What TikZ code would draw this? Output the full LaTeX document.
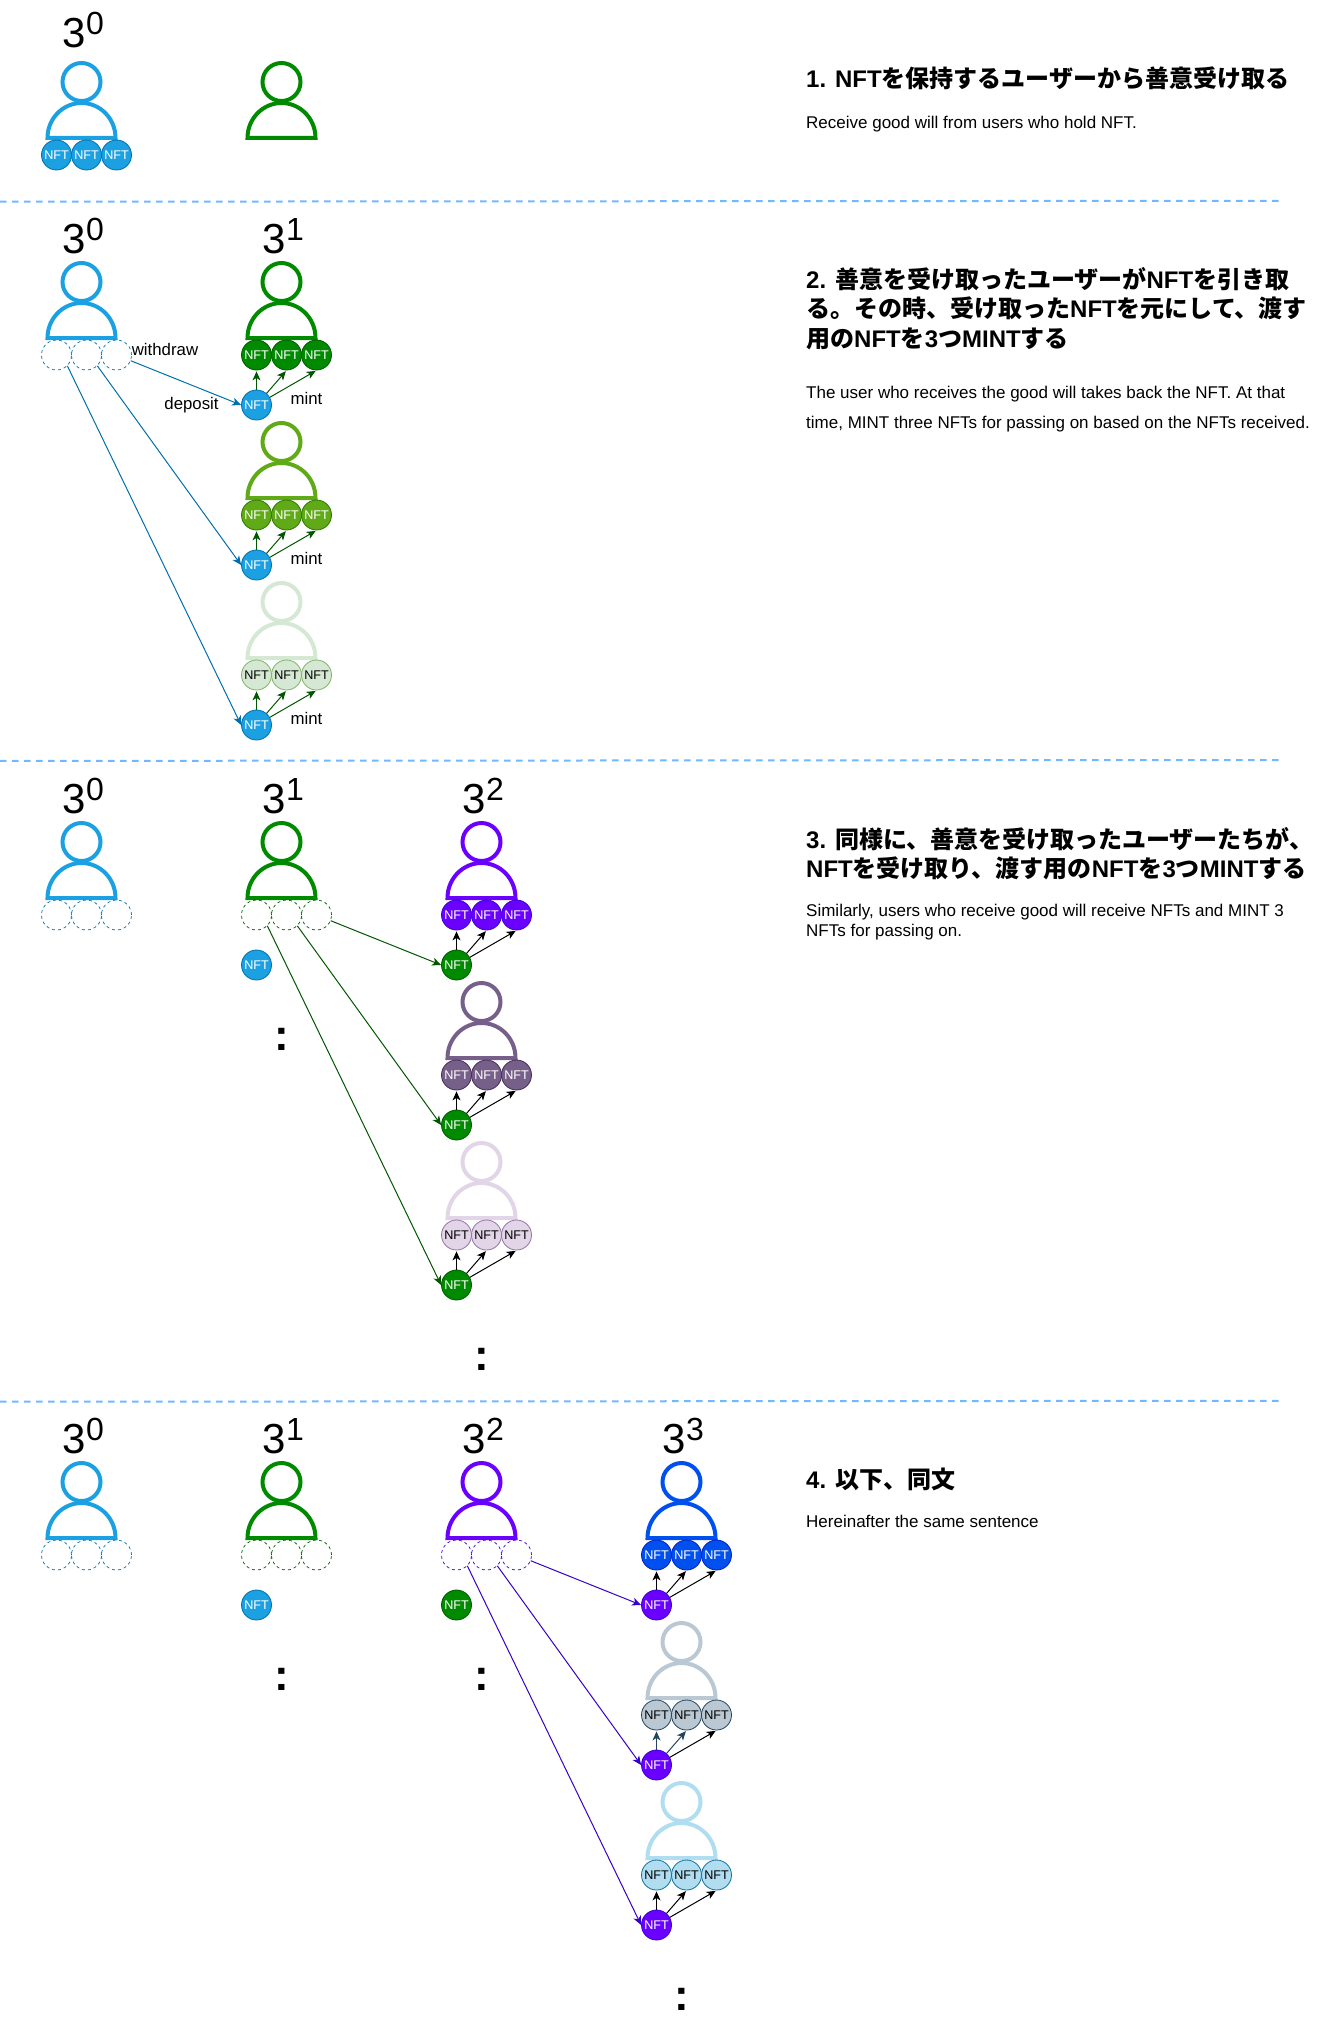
\documentclass[tikz,border=0pt]{standalone}
\usepackage{fontspec}
\setmainfont{Liberation Sans}
\newfontfamily\jp{Noto Sans CJK JP}
\usetikzlibrary{arrows.meta}
\definecolor{cA}{HTML}{1BA1E2}\definecolor{sA}{HTML}{006EAF}
\definecolor{cB}{HTML}{008A00}\definecolor{sB}{HTML}{005700}
\definecolor{cC}{HTML}{60A917}\definecolor{sC}{HTML}{2D7600}
\definecolor{cD}{HTML}{D5E8D4}\definecolor{sD}{HTML}{82B366}
\definecolor{cE}{HTML}{6A00FF}\definecolor{sE}{HTML}{3700CC}
\definecolor{cF}{HTML}{76608A}\definecolor{sF}{HTML}{432D57}
\definecolor{cG}{HTML}{E1D5E7}\definecolor{sG}{HTML}{9673A6}
\definecolor{cH}{HTML}{0050EF}\definecolor{sH}{HTML}{001DBC}
\definecolor{cI}{HTML}{BAC8D3}\definecolor{sI}{HTML}{23445D}
\definecolor{cJ}{HTML}{B1DDF0}\definecolor{sJ}{HTML}{10739E}
\definecolor{divc}{HTML}{70B8FF}
\tikzset{
  x=1pt,y=-1pt,
  nft/.style n args={3}{circle,draw=#2,fill=#1,line width=0.8pt,minimum size=30pt,inner sep=0pt,text=#3,font=\fontsize{12.6}{14}\selectfont},
  ghost/.style={circle,draw=#1,dash pattern=on 3pt off 3pt,line width=0.7pt,minimum size=30pt,inner sep=0pt},
  head/.style={circle,draw=#1,line width=4pt,minimum size=38pt,inner sep=0pt},
  bodyline/.style={draw=#1,line width=4pt},
  xfer/.style={draw=#1,line width=1pt,-{Stealth[length=9pt,width=8pt,inset=2.5pt]}},
  mintarrow/.style={draw=#1,line width=1pt,shorten >=1pt,-{Stealth[length=9pt,width=8pt,inset=2.5pt]}},
  divider/.style={draw=divc,line width=2pt,dash pattern=on 6.5pt off 5.5pt},
  lbl/.style={inner sep=0pt,font=\fontsize{16.8}{20}\selectfont},
  big/.style={inner sep=0pt,anchor=base west,font=\fontsize{42}{42}\selectfont},
  colon/.style={inner sep=0pt,anchor=base,font=\bfseries\fontsize{44}{44}\selectfont},
  heading/.style={anchor=north west,inner sep=0pt,align=left,font=\bfseries\fontsize{24}{29.5}\selectfont},
  bodytext/.style={anchor=north west,inner sep=0pt,align=left,font=\fontsize{17}{#1}\selectfont},
}
\newcommand{\person}[4]{%
  \node[head=#4] (#1h) at (#2,#3) {};
  \draw[bodyline=#4] ({#2-34},{#3+56}) arc[start angle=180,end angle=360,x radius=34,y radius=35] -- cycle;
}
\newcommand{\triple}[6]{%
  \node[nft={#4}{#5}{#6}] (#1a) at ({#2-25},{#3+73}) {NFT};
  \node[nft={#4}{#5}{#6}] (#1b) at ({#2+5},{#3+73}) {NFT};
  \node[nft={#4}{#5}{#6}] (#1c) at ({#2+35},{#3+73}) {NFT};
}
\newcommand{\ghosts}[4]{%
  \node[ghost=#4] (#1a) at ({#2-25},{#3+73}) {};
  \node[ghost=#4] (#1b) at ({#2+5},{#3+73}) {};
  \node[ghost=#4] (#1c) at ({#2+35},{#3+73}) {};
}
\newcommand{\recv}[8]{%
  \person{#1}{#2}{#3}{#4}
  \triple{#1}{#2}{#3}{#4}{#5}{#6}
  \node[nft={#7}{#8}{white}] (#1n) at ({#2-25},{#3+123}) {NFT};
}
\newcommand{\mintarrows}[4]{%
  \draw[mintarrow=#2] (#1n) -- (#1a.south);
  \draw[mintarrow=#3] (#1n) -- (#1b.south);
  \draw[mintarrow=#4] (#1n) -- (#1c.south);
}
\newcommand{\power}[4]{\node[big] (#1) at ({#2-19},#3) {3\raisebox{13pt}{\fontsize{32}{32}\selectfont #4}};}
\begin{document}
\begin{tikzpicture}
\useasboundingbox (0,0) rectangle (1322,2031);
% dividers
\coordinate (d1a) at (0,201.7); \coordinate (d1b) at (1280,200.8);
\coordinate (d2a) at (0,760.9); \coordinate (d2b) at (1280,760);
\coordinate (d3a) at (0,1401.7); \coordinate (d3b) at (1280,1400.8);
\draw[divider] (d1a) -- (d1b);
\draw[divider] (d2a) -- (d2b);
\draw[divider] (d3a) -- (d3b);
% section 1
\power{p10}{81.5}{47.5}{0}
\person{a}{81.5}{82}{cA}
\triple{a}{81.5}{82}{cA}{sA}{white}
\person{b}{281.5}{82}{cB}
% section 2
\power{p20}{81.5}{253}{0}
\power{p21}{281.5}{253}{1}
\person{c}{81.5}{282}{cA}
\ghosts{c}{81.5}{282}{sA}
\recv{d}{281.5}{282}{cB}{sB}{white}{cA}{sA}
\recv{e}{281.5}{442}{cC}{sC}{white}{cA}{sA}
\recv{f}{281.5}{602}{cD}{sD}{black}{cA}{sA}
\mintarrows{d}{sB}{sB}{sB}
\mintarrows{e}{sB}{sB}{sB}
\mintarrows{f}{sB}{sB}{sB}
\draw[xfer=sA] (cc) -- (dn.west);
\draw[xfer=sA] (cb.south east) -- (en.west);
\draw[xfer=sA] (ca.south east) -- (fn.west);
\node[lbl] (w) at (165,349) {withdraw};
\node[lbl,fill=white,inner xsep=1pt] (dep) at (191.5,405) {deposit};
\node[lbl] (m1) at (306.5,398) {mint};
\node[lbl] (m2) at (306.5,558) {mint};
\node[lbl] (m3) at (306.5,718) {mint};
% section 3
\power{p30}{81.5}{813}{0}
\power{p31}{281.5}{813}{1}
\power{p32}{481.5}{813}{2}
\person{g}{81.5}{842}{cA}
\ghosts{g}{81.5}{842}{sA}
\person{h}{281.5}{842}{cB}
\ghosts{h}{281.5}{842}{sB}
\node[nft={cA}{sA}{white}] (hn) at (256.5,965) {NFT};
\node[colon] (dotsh) at (281.5,1050.7) {:};
\recv{i}{481.5}{842}{cE}{sE}{white}{cB}{sB}
\recv{j}{481.5}{1002}{cF}{sF}{white}{cB}{sB}
\recv{k}{481.5}{1162}{cG}{sG}{black}{cB}{sB}
\mintarrows{i}{black}{black}{black}
\mintarrows{j}{black}{black}{black}
\mintarrows{k}{black}{black}{black}
\draw[xfer=sB] (hc) -- (in.west);
\draw[xfer=sB] (hb.south east) -- (jn.west);
\draw[xfer=sB] (ha.south east) -- (kn.west);
\node[colon] (dotsi) at (481.5,1370.7) {:};
% section 4
\power{p40}{81.5}{1453}{0}
\power{p41}{281.5}{1453}{1}
\power{p42}{481.5}{1453}{2}
\power{p43}{681.5}{1453}{3}
\person{l}{81.5}{1482}{cA}
\ghosts{l}{81.5}{1482}{sA}
\person{m}{281.5}{1482}{cB}
\ghosts{m}{281.5}{1482}{sB}
\node[nft={cA}{sA}{white}] (mn) at (256.5,1605) {NFT};
\node[colon] (dotsm) at (281.5,1690.7) {:};
\person{o}{481.5}{1482}{cE}
\ghosts{o}{481.5}{1482}{sE}
\node[nft={cB}{sB}{white}] (on) at (456.5,1605) {NFT};
\node[colon] (dotso) at (481.5,1690.7) {:};
\recv{q}{681.5}{1482}{cH}{sH}{white}{cE}{sE}
\recv{r}{681.5}{1642}{cI}{sI}{black}{cE}{sE}
\recv{s}{681.5}{1802}{cJ}{sJ}{black}{cE}{sE}
\mintarrows{q}{black}{black}{black}
\mintarrows{r}{sI}{sI}{black}
\mintarrows{s}{black}{black}{black}
\draw[xfer=sE] (oc) -- (qn.west);
\draw[xfer=sE] (ob.south east) -- (rn.west);
\draw[xfer=sE] (oa.south east) -- (sn.west);
\node[colon] (dotss) at (681.5,2010.7) {:};
% text
\node[heading] (t1) at (806,67) {1. NFT{\jp を保持するユーザーから善意受け取る}};
\node[bodytext=20] (b1) at (806,116) {Receive good will from users who hold NFT.};
\node[heading] (t2) at (806,267) {2. {\jp 善意を受け取ったユーザーが}NFT{\jp を引き取}\\{\jp る。その時、受け取った}NFT{\jp を元にして、渡す}\\{\jp 用の}NFT{\jp を}3{\jp つ}MINT{\jp する}};
\node[bodytext=29.5] (b2) at (806,386) {The user who receives the good will takes back the NFT. At that\\time, MINT three NFTs for passing on based on the NFTs received.};
\node[heading] (t3) at (806,827) {3. {\jp 同様に、善意を受け取ったユーザーたちが、}\\NFT{\jp を受け取り、渡す用の}NFT{\jp を}3{\jp つ}MINT{\jp する}};
\node[bodytext=20] (b3) at (806,904) {Similarly, users who receive good will receive NFTs and MINT 3\\NFTs for passing on.};
\node[heading] (t4) at (806,1468) {4. {\jp 以下、同文}};
\node[bodytext=20] (b4) at (806,1514.5) {Hereinafter the same sentence};
\end{tikzpicture}
\end{document}
